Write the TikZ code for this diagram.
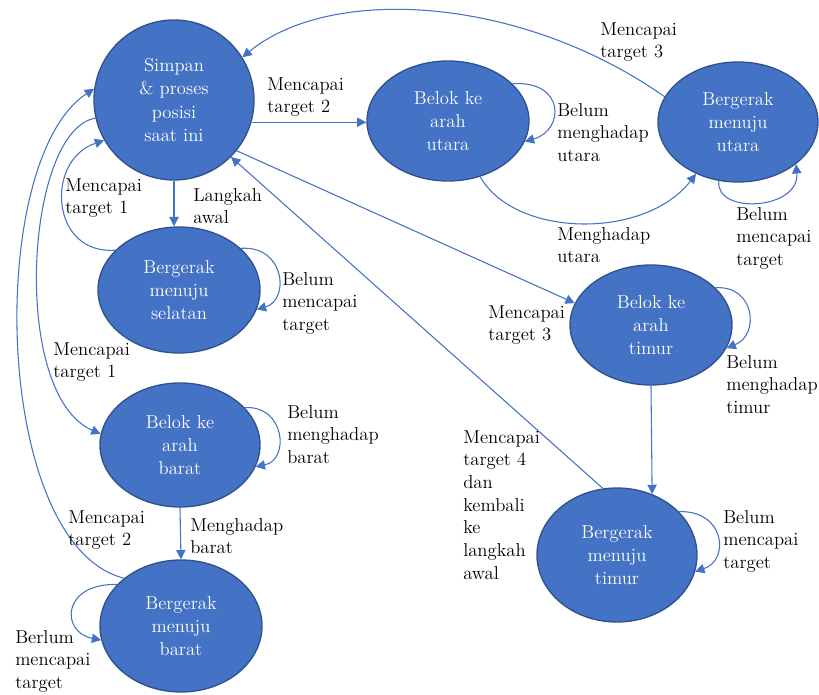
\documentclass[tikz,border=0pt]{standalone}
\usetikzlibrary{shapes.geometric,arrows.meta}
\definecolor{nodefill}{HTML}{4472C4}
\definecolor{nodeline}{HTML}{2F528F}
\definecolor{arrowcol}{HTML}{4472C4}
\begin{document}
\begin{tikzpicture}[x=0.75pt,y=-0.75pt,
  state/.style={ellipse,fill=nodefill,draw=nodeline,line width=1pt,text=white,align=center,inner sep=0pt,font=\rmfamily\fontsize{14}{17.5}\selectfont},
  lbl/.style={anchor=north west,align=left,inner sep=0pt,font=\rmfamily\fontsize{14}{17}\selectfont},
  arr/.style={draw=arrowcol,line width=0.8pt,-{Triangle[length=7pt,width=7pt]}}]
\useasboundingbox (0,0) rectangle (819,695);

\node[state,minimum width=120pt,minimum height=120pt] (simpan) at (174,100) {Simpan\\\& proses\\posisi\\saat ini};
\node[state,minimum width=121.5pt,minimum height=90pt] (butara) at (448,121) {Belok ke\\arah\\utara};
\node[state,minimum width=120pt,minimum height=90pt] (gutara) at (738,122) {Bergerak\\menuju\\utara};
\node[state,minimum width=121.5pt,minimum height=94.5pt] (gselatan) at (179,290) {Bergerak\\menuju\\selatan};
\node[state,minimum width=121.5pt,minimum height=90pt] (btimur) at (651,325) {Belok ke\\arah\\timur};
\node[state,minimum width=120pt,minimum height=93pt] (bbarat) at (180,445) {Belok ke\\arah\\barat};
\node[state,minimum width=120pt,minimum height=100.5pt] (gtimur) at (617,555) {Bergerak\\menuju\\timur};
\node[state,minimum width=121.5pt,minimum height=99pt] (gbarat) at (181,626) {Bergerak\\menuju\\barat};

% connectors
\draw[arr] (simpan.-16) -- (simpan.-16 -| butara.west);
\draw[arr] (simpan.south) -- (simpan.south |- gselatan.north);
\draw[arr] (butara.-60) .. controls (515,238) and (645,240) .. (gutara.231);
\draw[arr] (gutara.161) .. controls (520,-5) and (330,-15) .. (simpan.32);
\draw[arr] (simpan.-39) -- (btimur.164);
\draw[arr] (gtimur.102) -- (simpan.-45);
\draw[arr] (btimur.south) -- (gtimur.60);
\draw[arr] (bbarat.south) -- (gbarat.north);
\draw[arr] (gselatan.148) .. controls (50,255) and (45,160) .. (simpan.210);
\draw[arr] (simpan.193) .. controls (25,130) and (10,395) .. (bbarat.172);
\draw[arr] (gbarat.140) .. controls (-8,545) and (-15,160) .. (simpan.172);

% self loops
\draw[arr] (butara.30) .. controls (565,80) and (565,130) .. (butara.-15);
\draw[arr] (gutara.-108) .. controls (715,215) and (800,210) .. (gutara.-36);
\draw[arr] (gselatan.34) .. controls (285,245) and (290,300) .. (gselatan.-14);
\draw[arr] (bbarat.30) .. controls (285,405) and (290,460) .. (bbarat.-16);
\draw[arr] (gbarat.147) .. controls (62,583) and (60,632) .. (gbarat.190);
\draw[arr] (btimur.30) .. controls (755,285) and (760,335) .. (btimur.-17);
\draw[arr] (gtimur.35) .. controls (725,510) and (730,560) .. (gtimur.-12);

% labels
\node[lbl] (l1) at (267,77) {Mencapai\\target 2};
\node[lbl] (l2) at (193,188) {Langkah\\awal};
\node[lbl] (l3) at (600,22) {Mencapai\\target 3};
\node[lbl] (l4) at (557,103) {Belum\\menghadap\\utara};
\node[lbl] (l5) at (557,227) {Menghadap\\utara};
\node[lbl] (l6) at (736,207) {Belum\\mencapai\\target};
\node[lbl] (l7) at (65,178) {Mencapai\\target 1};
\node[lbl] (l8) at (282,272) {Belum\\mencapai\\target};
\node[lbl] (l9) at (488,305) {Mencapai\\target 3};
\node[lbl] (l10) at (726,355) {Belum\\menghadap\\timur};
\node[lbl] (l11) at (53,342) {Mencapai\\target 1};
\node[lbl] (l12) at (287,405) {Belum\\menghadap\\barat};
\node[lbl] (l13) at (463,430) {Mencapai\\target 4\\dan\\kembali\\ke\\langkah\\awal};
\node[lbl] (l14) at (723,510) {Belum\\mencapai\\target};
\node[lbl] (l15) at (68,510) {Mencapai\\target 2};
\node[lbl] (l16) at (190,518) {Menghadap\\barat};
\node[lbl] (l17) at (15,630) {Berlum\\mencapai\\target};
\end{tikzpicture}
\end{document}
